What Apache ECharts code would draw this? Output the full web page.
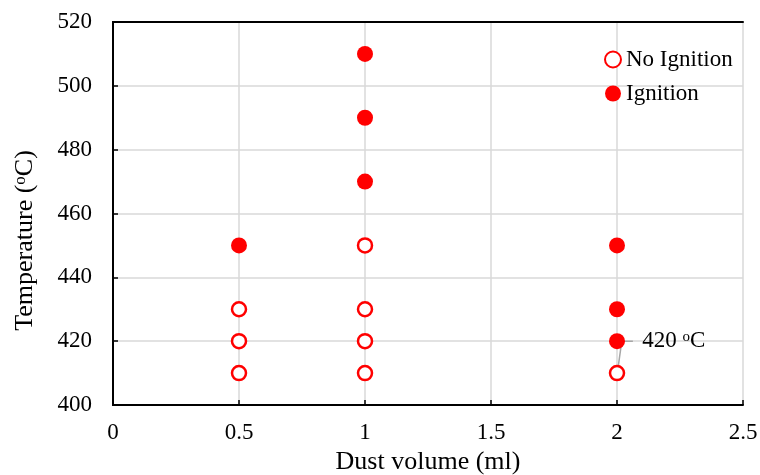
<!DOCTYPE html>
<html><head><meta charset="utf-8">
<script src="https://cdn.jsdelivr.net/npm/echarts@6/dist/echarts.min.js"></script>
<style>html,body{margin:0;padding:0;background:#fff}#c{width:760px;height:475px}</style>
</head><body><div id="c"></div>
<script>
const xTicks = [0, 0.5, 1, 1.5, 2, 2.5];
const yTicks = [400, 420, 440, 460, 480, 500, 520];
const noIgnition = [[0.5,430],[0.5,420],[0.5,410],[1,450],[1,430],[1,420],[1,410],[2,410]];
const ignition = [[0.5,450],[1,510],[1,490],[1,470],[2,450],[2,430],[2,420]];
const leader = [[2.003,411],[2.019,420],[2.063,420]];
const annotation = [[2.1,420]];

const F = 'Liberation Serif, Times New Roman, serif';
const chart = echarts.init(document.getElementById('c'));
const frameAxis = {axisLine:{show:true,lineStyle:{color:'#000',width:2}},axisTick:{show:false},axisLabel:{show:false},splitLine:{show:false}};
chart.setOption({
  animation:false,
  backgroundColor:'#fff',
  grid:{left:113,right:17,top:22,bottom:70,outerBoundsMode:'none',containLabel:false},
  xAxis:[{type:'value',min:xTicks[0],max:xTicks[xTicks.length-1],interval:0.5,
    name:'Dust volume (ml)',nameLocation:'middle',nameGap:43,
    nameTextStyle:{fontFamily:F,fontSize:26,color:'#000'},
    axisLine:{lineStyle:{color:'#000',width:2}},
    axisTick:{inside:true,length:5,lineStyle:{color:'#000',width:1.5}},
    axisLabel:{fontFamily:F,fontSize:23,color:'#000',margin:16},
    splitLine:{show:true,lineStyle:{color:'#d9d9d9',width:1.5}}},
    Object.assign({type:'value',position:'top',min:0,max:2.5,interval:0.5},frameAxis)],
  yAxis:[{type:'value',min:yTicks[0],max:yTicks[yTicks.length-1],interval:20,
    name:'{n|Temperature (}{s|o}{n|C)}',nameLocation:'middle',nameGap:74,
    nameTextStyle:{padding:[0,54,0,0],rich:{n:{fontFamily:F,fontSize:26,color:'#000'},s:{fontFamily:F,fontSize:17,color:'#000',verticalAlign:'top',padding:[0,0,10,0]}}},
    axisLine:{lineStyle:{color:'#000',width:2}},
    axisTick:{inside:true,length:5,lineStyle:{color:'#000',width:1.5}},
    axisLabel:{fontFamily:F,fontSize:23,color:'#000',margin:21},
    splitLine:{show:true,lineStyle:{color:'#d9d9d9',width:1.5}}},
    Object.assign({type:'value',position:'right',min:400,max:520,interval:20},frameAxis)],
  legend:{orient:'vertical',left:599,top:43,itemGap:11,itemWidth:16,itemHeight:16,
    textStyle:{fontFamily:F,fontSize:23,lineHeight:23,color:'#000'},
    data:['No Ignition','Ignition']},
  series:[
    {name:'leader',type:'line',data:leader,symbol:'none',lineStyle:{color:'#a6a6a6',width:1.5},silent:true,z:1},
    {name:'No Ignition',type:'scatter',data:noIgnition,symbol:'circle',symbolSize:14,
      itemStyle:{color:'#fff',borderColor:'#ff0000',borderWidth:2.5,opacity:1},z:3},
    {name:'Ignition',type:'scatter',data:ignition,symbol:'circle',symbolSize:16,
      itemStyle:{color:'#ff0000',opacity:1},z:3},
    {name:'ann',type:'scatter',data:annotation,symbolSize:0,silent:true,
      label:{show:true,position:'right',distance:0,color:'#000',opacity:1,formatter:'{n|420 }{s|o}{n|C}',
        rich:{n:{fontFamily:F,fontSize:23,color:'#000'},s:{fontFamily:F,fontSize:15,color:'#000',verticalAlign:'top',padding:[0,0,9,0]}}}}
  ]
});
</script></body></html>
